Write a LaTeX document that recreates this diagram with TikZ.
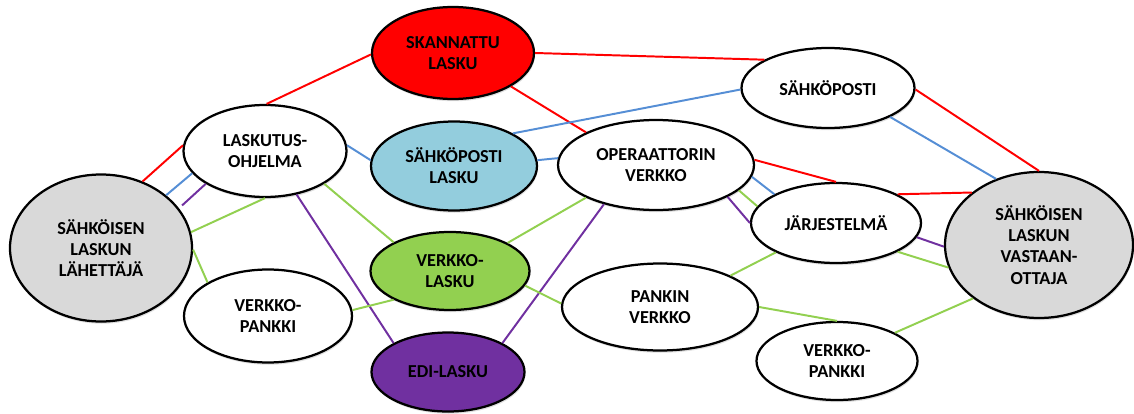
\documentclass[tikz,border=0pt]{standalone}
\usepackage{fontspec}
\setmainfont{Carlito}
\usetikzlibrary{shapes.geometric,shadows}
\definecolor{linkred}{HTML}{FF0000}
\definecolor{linkblue}{HTML}{558ED5}
\definecolor{linkgreen}{HTML}{92D050}
\definecolor{linkpurple}{HTML}{7030A0}
\definecolor{partygray}{HTML}{D9D9D9}
\definecolor{mailblue}{HTML}{93CDDD}

\begin{document}
\begin{tikzpicture} [
  inner sep = 0,
  every node/.style = { line width = 1.6pt, draw, ellipse, fill = white, align = center,
    font = \fontsize{13}{15}\selectfont\bfseries,
    drop shadow={shadow xshift=0.6pt,shadow yshift=-1.6pt,opacity=0.25} },
  party/.style = { fill = partygray },
  scanned/.style = { fill = linkred },
  mailed/.style = { fill = mailblue },
  webbed/.style = { fill = linkgreen },
  edi/.style = { fill = linkpurple },
  redlink/.style = { draw = linkred, line width = 1.4pt },
  bluelink/.style = { draw = linkblue, line width = 1.4pt },
  greenlink/.style = { draw = linkgreen, line width = 1.4pt },
  purplelink/.style = { draw = linkpurple, line width = 1.4pt }
  ]

  \useasboundingbox (0,0) rectangle (28.35,10.325);

  \node[party, minimum width = 4.55cm, minimum height = 3.675cm] (sender) at (2.525,4.125) {SÄHKÖISEN\\LASKUN\\LÄHETTÄJÄ};
  \node[minimum width = 4.075cm, minimum height = 2.3cm] (billing) at (6.625,6.55) {LASKUTUS-\\OHJELMA};
  \node[minimum width = 4.2cm, minimum height = 2.325cm] (bankL) at (6.7,2.425) {VERKKO-\\PANKKI};
  \node[scanned, minimum width = 4.05cm, minimum height = 2.3cm] (scanned) at (11.325,9.0) {SKANNATTU\\LASKU};
  \node[mailed, minimum width = 4.15cm, minimum height = 2.225cm] (mailbill) at (11.35,6.175) {SÄHKÖPOSTI\\LASKU};
  \node[webbed, minimum width = 3.975cm, minimum height = 1.95cm] (webbill) at (11.25,3.55) {VERKKO-\\LASKU};
  \node[edi, minimum width = 3.825cm, minimum height = 1.975cm] (edibill) at (11.2,1.025) {EDI-LASKU};
  \node[minimum width = 4.9cm, minimum height = 2.25cm] (operator) at (16.4,6.2) {OPERAATTORIN\\VERKKO};
  \node[minimum width = 4.9cm, minimum height = 2.175cm] (banknet) at (16.5,2.65) {PANKIN\\VERKKO};
  \node[minimum width = 4.325cm, minimum height = 2.0cm] (email) at (20.7,8.125) {SÄHKÖPOSTI};
  \node[minimum width = 4.25cm, minimum height = 2.0cm] (system) at (20.9,4.75) {JÄRJESTELMÄ};
  \node[party, minimum width = 4.7cm, minimum height = 3.65cm] (receiver) at (25.975,4.2) {SÄHKÖISEN\\LASKUN\\VASTAAN-\\OTTAJA};
  \node[minimum width = 4.025cm, minimum height = 1.95cm] (bankR) at (20.925,1.3) {VERKKO-\\PANKKI};

  \draw[redlink] (sender.58) -- (billing.176);
  \draw[redlink] (billing.88) -- (scanned.181);
  \draw[redlink] (scanned.0) -- (email.156);
  \draw[redlink] (scanned.330) -- (operator.155);
  \draw[redlink] (operator.3.5) -- (system.90);
  \draw[redlink] (system.25) -- (receiver.142);
  \draw[redlink] (email.359) -- (receiver.90);

  \draw[bluelink] (sender.39) -- (billing.197);
  \draw[bluelink] (billing.4) -- (mailbill.176);
  \draw[bluelink] (mailbill.29) -- (email.181);
  \draw[bluelink] (mailbill.4) -- (operator.176);
  \draw[bluelink] (operator.353) -- (system.155);
  \draw[bluelink] (email.335) -- (receiver.123);

  \draw[purplelink, shorten < = 3pt] (sender.27) -- (billing.209);
  \draw[purplelink] (billing.306) -- (edibill.152);
  \draw[purplelink] (edibill.28) -- (operator.217);
  \draw[purplelink] (operator.336) -- (system.180);
  \draw[purplelink] (system.350) -- (receiver.181);

  \draw[greenlink] (sender.10) -- (billing.270);
  \draw[greenlink] (sender.359) -- (bankL.151);
  \draw[greenlink] (billing.331) -- (webbill.153);
  \draw[greenlink] (bankL.4) -- (webbill.207);
  \draw[greenlink] (webbill.26) -- (operator.205);
  \draw[greenlink] (webbill.349) -- (banknet.178);
  \draw[greenlink] (operator.343) -- (system.168);
  \draw[greenlink] (banknet.24) -- (system.206);
  \draw[greenlink] (system.335) -- (receiver.194);
  \draw[greenlink] (banknet.0) -- (bankR.90);
  \draw[greenlink] (bankR.26) -- (receiver.219);
\end{tikzpicture}
\end{document}
